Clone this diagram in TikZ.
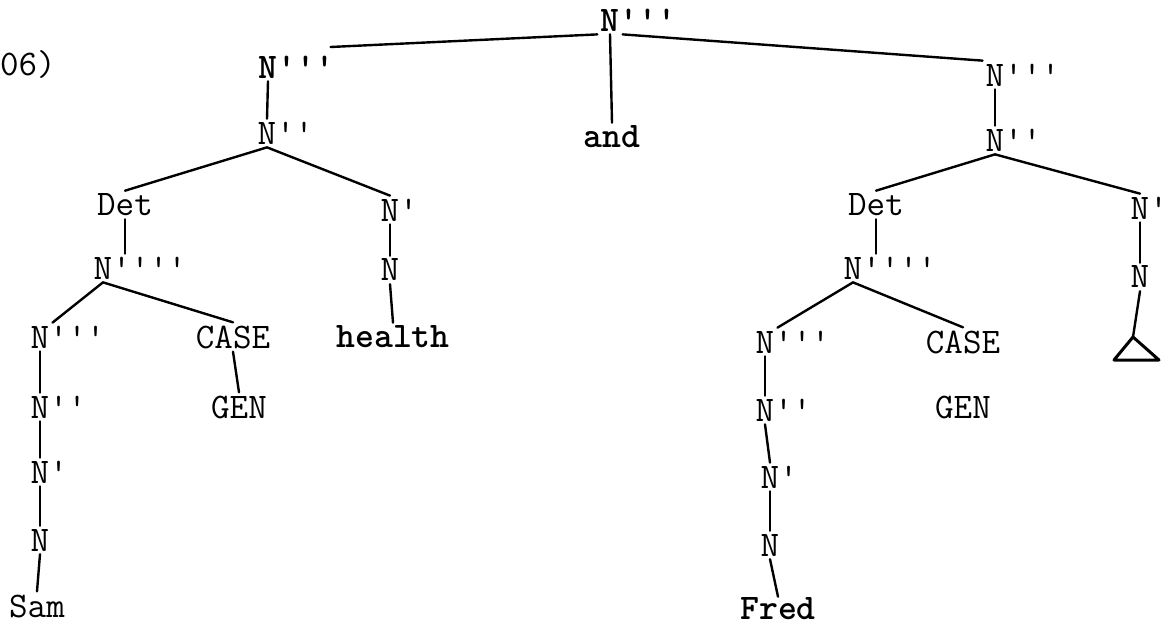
\documentclass[tikz,border=0pt]{standalone}
\newcommand\prm{\textquotesingle}
\begin{document}
\begin{tikzpicture}[x=1pt,y=-1pt,
  every node/.style={font=\ttfamily\fontsize{36}{36}\selectfont, inner sep=3pt, text=black},
  bolder/.style={font=\ttfamily\bfseries\fontsize{36}{36}\selectfont},
  edge/.style={line width=2.4pt, line cap=round}]
\useasboundingbox (0,0) rectangle (1172,628);
% label
\node[anchor=west, inner sep=0pt] (num) at (0,65) {06)};
% top
\node[bolder] (top) at (610,20) {N\rlap{\prm\prm\prm}};
\node[bolder] (and) at (612,137) {and};
% left conjunct
\node[bolder] (L3) at (268,67) {N\rlap{\prm\prm\prm}};
\node (L2) at (267,133) {N\rlap{\prm\prm}};
\node (LDet) at (125,205) {Det};
\node (L4) at (103,268) {N\rlap{\prm\prm\prm\prm}};
\node (L3b) at (40,337) {N\rlap{\prm\prm\prm}};
\node (LCASE) at (233,337) {CASE};
\node (LGEN) at (239,407) {GEN};
\node (L2b) at (40,407) {N\rlap{\prm\prm}};
\node (L1b) at (40,472) {N\rlap{\prm}};
\node (L0b) at (40,540) {N};
\node (Sam) at (37,606) {Sam};
\node (LN1) at (390,210) {N\rlap{\prm}};
\node (LN0) at (390,270) {N};
\node[bolder] (health) at (393,337) {health};
% right conjunct
\node (R3) at (995,75) {N\rlap{\prm\prm\prm}};
\node (R2) at (995,140) {N\rlap{\prm\prm}};
\node (RDet) at (876,205) {Det};
\node (R4) at (853,268) {N\rlap{\prm\prm\prm\prm}};
\node (R3b) at (765,342) {N\rlap{\prm\prm\prm}};
\node (RCASE) at (963,342) {CASE};
\node (RGEN) at (963,407) {GEN};
\node (R2b) at (765,410) {N\rlap{\prm\prm}};
\node (R1b) at (770,477) {N\rlap{\prm}};
\node (R0b) at (770,545) {N};
\node[bolder, inner sep=1pt] (Fred) at (778,609) {Fred};
\node (RN1) at (1140,208) {N\rlap{\prm}};
\node (RN0) at (1140,277) {N};
\coordinate (apex) at (1133,337);
\coordinate (tl) at (1114,360);
\coordinate (tr) at (1159,360);
% connectors
\draw[edge] (top.south west) -- ([shift={(50,-20)}]L3.east);
\draw[edge] (top.south east) -- (R3.north west);
\draw[edge] (top.south) -- (and.north);
\draw[edge] (L3.south) -- (L2.north);
\draw[edge] (L2.south) -- (LDet.north);
\draw[edge] (L2.south) -- (LN1.north);
\draw[edge] (LDet.south) -- (LDet.south |- L4.north);
\draw[edge] (L4.south) -- (L3b.north east);
\draw[edge] (L4.south) -- (LCASE.north);
\draw[edge] (LCASE.south) -- (LGEN.north);
\draw[edge] (L3b.south) -- (L2b.north);
\draw[edge] (L2b.south) -- (L1b.north);
\draw[edge] (L1b.south) -- (L0b.north);
\draw[edge] (L0b.south) -- (Sam.north);
\draw[edge] (LN1.south) -- (LN0.north);
\draw[edge] (LN0.south) -- (health.north);
\draw[edge] (R3.south) -- (R2.north);
\draw[edge] (R2.south) -- (RDet.north);
\draw[edge] (R2.south) -- (RN1.north);
\draw[edge] (RDet.south) -- (RDet.south |- R4.north);
\draw[edge] (R4.south) -- (R3b.north east);
\draw[edge] (R4.south) -- (RCASE.north);
\draw[edge] (R3b.south) -- (R2b.north);
\draw[edge] (R2b.south) -- (R1b.north);
\draw[edge] (R1b.south) -- (R0b.north);
\draw[edge] (R0b.south) -- (Fred.north);
\draw[edge] (RN1.south) -- (RN0.north);
\draw[edge] (RN0.south) -- (apex);
\draw[line width=3pt, line join=round] (apex) -- (tl) -- (tr) -- cycle;
\end{tikzpicture}
\end{document}
